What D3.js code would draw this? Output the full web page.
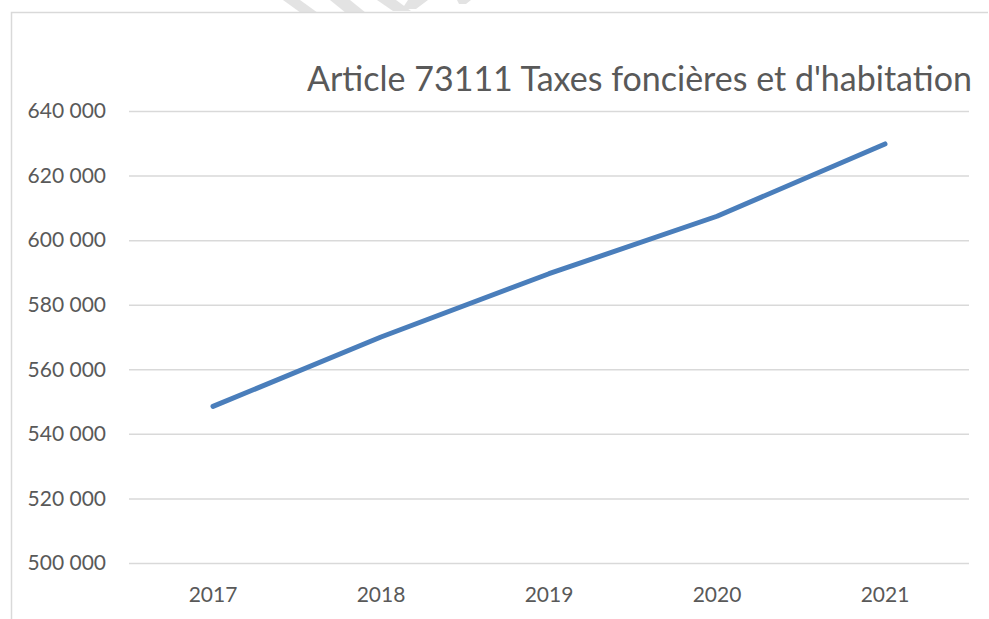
<!DOCTYPE html>
<html>
<head>
<meta charset="utf-8">
<script src="https://cdn.jsdelivr.net/npm/d3@7"></script>
<style>
  html, body { margin: 0; padding: 0; background: #ffffff; }
  svg { display: block; }
  text { font-family: Lato, "Open Sans", sans-serif; }
</style>
</head>
<body>
<svg id="chart" width="989" height="619"></svg>
<script>
const title = "Article 73111 Taxes foncières et d'habitation";
const years = ["2017", "2018", "2019", "2020", "2021"];
const values = [548500, 570000, 589600, 607400, 629800];
const yTicks = [500000, 520000, 540000, 560000, 580000, 600000, 620000, 640000];

const W = 989, H = 619;
const svg = d3.select("#chart");

// watermark fragments at the top edge
const wm = [
  [[283,0],[300,0],[318,13],[301,13]],
  [[330,0],[350,0],[366,13],[346,13]],
  [[377,0],[396,0],[411,11],[393,11]],
  [[408,0],[428,0],[416,9],[402,9]],
  [[457,0],[471,0],[466,4],[459,4]]
];
svg.append("g").selectAll("polygon").data(wm).join("polygon")
  .attr("points", d => d.map(p => p.join(",")).join(" "))
  .attr("fill", "#e3e3e3");

// chart border (top and left visible)
svg.append("path")
  .attr("d", "M11.5," + H + " L11.5,12.5 L988,12.5")
  .attr("fill", "none").attr("stroke", "#d9d9d9").attr("stroke-width", 1.5);

const x = d3.scaleBand().domain(years).range([129, 969]);
const y = d3.scaleLinear().domain([500000, 640000]).range([563, 111]);

const fmt = v => d3.format(",")(v).replace(/,/g, " ");

// gridlines via axis
const grid = svg.append("g")
  .attr("transform", "translate(129,0)")
  .call(d3.axisLeft(y).tickValues(yTicks).tickSize(-840).tickFormat(""));
grid.select(".domain").remove();
grid.selectAll(".tick line").attr("stroke", "#d9d9d9").attr("stroke-width", 1.5);

// y tick labels
const yAxis = svg.append("g")
  .attr("transform", "translate(106,0)")
  .call(d3.axisLeft(y).tickValues(yTicks).tickSize(0).tickPadding(0).tickFormat(fmt));
yAxis.select(".domain").remove();
yAxis.selectAll("text")
  .attr("fill", "#595959").style("font-size", "21px")
  .style("font-family", "Lato, 'Open Sans', sans-serif");

// x tick labels
const xAxis = svg.append("g")
  .attr("transform", "translate(0,563)")
  .call(d3.axisBottom(x).tickSize(0).tickPadding(0));
xAxis.select(".domain").remove();
xAxis.selectAll("text")
  .attr("y", 39).attr("dy", null)
  .attr("fill", "#595959").style("font-size", "21px")
  .style("font-family", "Lato, 'Open Sans', sans-serif");

// line
const line = d3.line()
  .x((d, i) => x(years[i]) + x.bandwidth() / 2)
  .y(d => y(d));
svg.append("path")
  .datum(values)
  .attr("d", line)
  .attr("fill", "none")
  .attr("stroke", "#4a7ebb")
  .attr("stroke-width", 5)
  .attr("stroke-linecap", "round")
  .attr("stroke-linejoin", "round");

// title
svg.append("text")
  .attr("x", 972).attr("y", 91)
  .attr("text-anchor", "end")
  .attr("fill", "#595959")
  .style("font-size", "34px")
  .text(title);
</script>
</body>
</html>
